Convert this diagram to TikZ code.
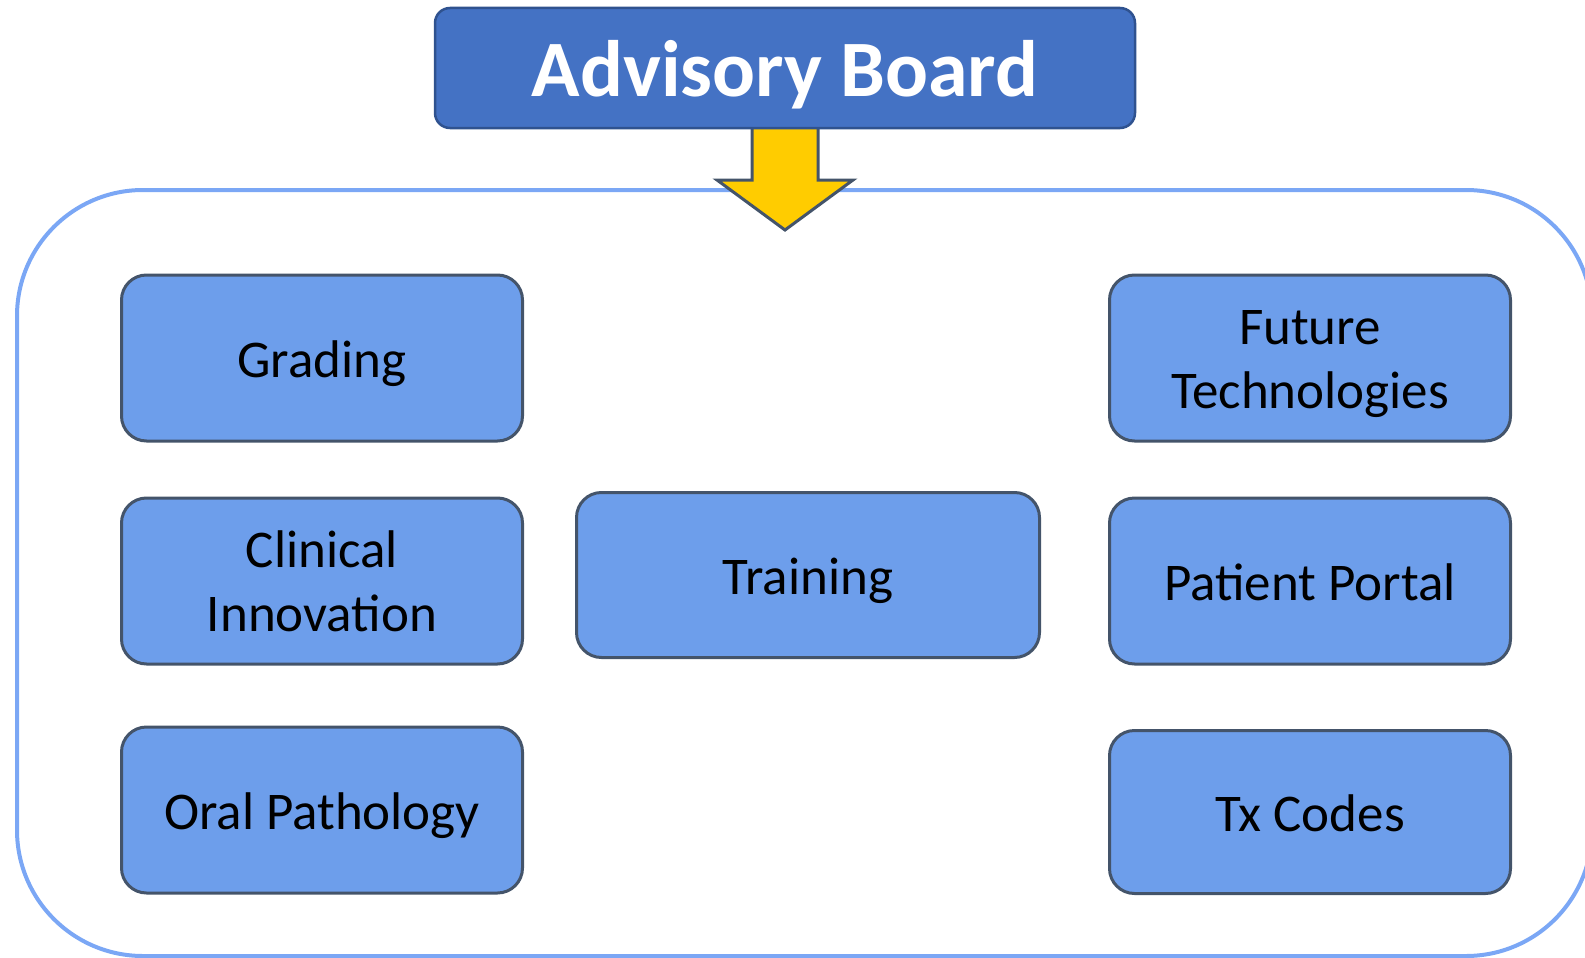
\documentclass[tikz,border=0pt]{standalone}
\usepackage{fontspec}
\setmainfont{Carlito}
\usetikzlibrary{positioning,calc}
\definecolor{abnavy}{HTML}{4472C4}
\definecolor{abnavyline}{HTML}{2F528F}
\definecolor{abblue}{HTML}{6D9EEB}
\definecolor{abslate}{HTML}{44546A}
\definecolor{abframe}{HTML}{7BA7F5}
\definecolor{abgold}{HTML}{FFCC00}

\begin{document}
\begin{tikzpicture}[x=1pt,y=-1pt,
  topic/.style={draw=abslate,fill=abblue,line width=3pt,rounded corners=25pt,
    minimum width=401pt,minimum height=166pt,inner sep=0pt,align=center,
    font=\fontsize{53}{64}\selectfont},
  oneline/.style={text height=44pt,text depth=6pt},
  twoline/.style={text height=106pt,text depth=6pt},
  boardbox/.style={draw=abnavyline,fill=abnavy,line width=2.5pt,rounded corners=15pt,
    minimum width=700pt,minimum height=120pt,inner sep=0pt,text=white,
    text height=62pt,text depth=6pt,font=\fontsize{80}{90}\selectfont\bfseries}]

  % ---- Page ----------------------------------------------------
  \useasboundingbox (0,0) rectangle (1585,958);
  \clip (0,0) rectangle (1585,958);

  % ---- Outer frame ---------------------------------------------
  \draw[abframe,line width=4pt,rounded corners=126pt] (17,190) rectangle (1592,956);

  % ---- Board ---------------------------------------------------
  \coordinate (boardfoot) at (785,128);
  % Arrow down into the frame
  \begin{scope}[shift={(boardfoot)}]
    \filldraw[fill=abgold,draw=abslate,line width=3pt,line join=miter]
      (-33,-4) -- (-33,52) -- (-68,52) -- (0,102) -- (68,52) -- (33,52) -- (33,-4);
  \end{scope}
  \node[boardbox] (board) at (785,68) {Advisory Board};

  % ---- Left column ---------------------------------------------
  \node[topic,oneline] (grading) at (322,358) {Grading};
  \node[topic,twoline] (clinical) at (322,581) {Clinical\\Innovation};
  \node[topic,oneline] (oral) at (322,810) {Oral Pathology};

  % ---- Centre --------------------------------------------------
  \node[topic,oneline,minimum width=463pt,minimum height=165pt] (training) at (808,575) {Training};

  % ---- Right column --------------------------------------------
  \node[topic,twoline] (future) at (1310,358) {Future\\Technologies};
  \node[topic,oneline] (patient) at (1310,581) {Patient Portal};
  \node[topic,oneline,minimum height=163pt] (txcodes) at (1310,812) {Tx Codes};

\end{tikzpicture}
\end{document}
